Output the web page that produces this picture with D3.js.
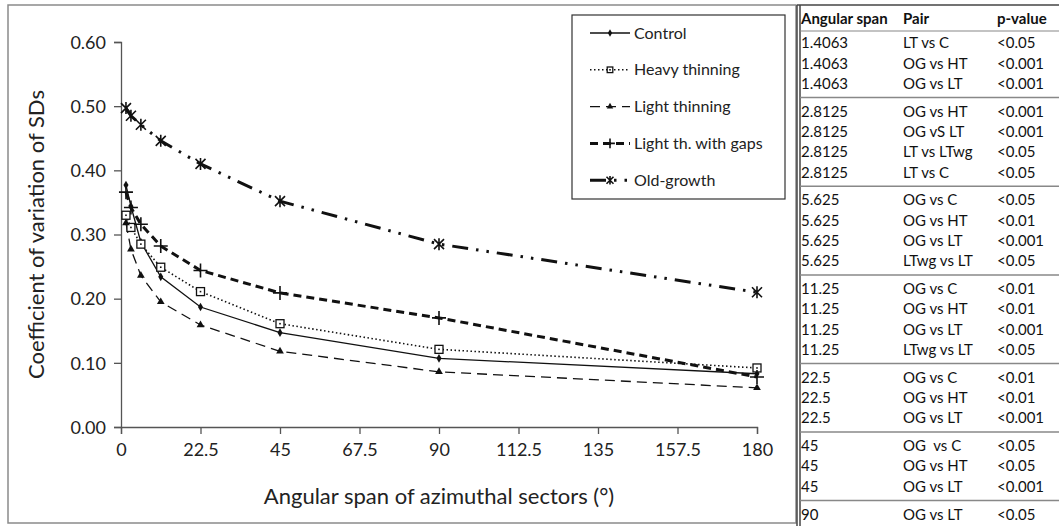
<!DOCTYPE html>
<html>
<head>
<meta charset="utf-8">
<script src="https://cdn.jsdelivr.net/npm/d3@7"></script>
<style>
	body { margin: 0; background: #fff; }
	svg { display: block; font-family: Lato, "Open Sans", sans-serif; }
</style>
</head>
<body>
<svg id="chart" width="1059" height="526"></svg>
<script>
// angular spans (x) and series values
const spans = [1.40625, 2.8125, 5.625, 11.25, 22.5, 45, 90, 180];
const control = [0.377, 0.344, 0.288, 0.234, 0.187, 0.147, 0.107, 0.083];
const heavyThinning = [0.330, 0.311, 0.285, 0.249, 0.211, 0.161, 0.121, 0.092];
const lightThinning = [0.318, 0.277, 0.236, 0.195, 0.159, 0.118, 0.086, 0.061];
const lightGaps = [0.366, 0.342, 0.316, 0.282, 0.244, 0.209, 0.170, 0.078];
const oldGrowth = [0.497, 0.485, 0.471, 0.446, 0.410, 0.352, 0.285, 0.210];

const seriesNames = ["Control", "Heavy thinning", "Light thinning", "Light th. with gaps", "Old-growth"];
const xTicks = [0, 22.5, 45, 67.5, 90, 112.5, 135, 157.5, 180];
const yTicks = [0, 0.1, 0.2, 0.3, 0.4, 0.5, 0.6];

// significance table
const tableSpans = ["1.4063", "1.4063", "1.4063", "2.8125", "2.8125", "2.8125", "2.8125",
	"5.625", "5.625", "5.625", "5.625", "11.25", "11.25", "11.25", "11.25",
	"22.5", "22.5", "22.5", "45", "45", "45", "90"];
const tablePairs = ["LT vs C", "OG vs HT", "OG vs LT", "OG vs HT", "OG vS LT", "LT vs LTwg", "LT vs C",
	"OG vs C", "OG vs HT", "OG vs LT", "LTwg vs LT", "OG vs C", "OG vs HT", "OG vs LT", "LTwg vs LT",
	"OG vs C", "OG vs HT", "OG vs LT", "OG  vs C", "OG vs HT", "OG vs LT", "OG vs LT"];
const tablePvalues = ["<0.05", "<0.001", "<0.001", "<0.001", "<0.001", "<0.05", "<0.05",
	"<0.05", "<0.01", "<0.001", "<0.05", "<0.01", "<0.01", "<0.001", "<0.05",
	"<0.01", "<0.01", "<0.001", "<0.05", "<0.05", "<0.001", "<0.05"];

const svg = d3.select("#chart");

const x = d3.scaleLinear().domain([0, 180]).range([121, 757]);
const y = d3.scaleLinear().domain([0, 0.6]).range([427, 42]);

// outer frame of the chart
svg.append("rect")
	.attr("x", 8).attr("y", 5)
	.attr("width", 788).attr("height", 518)
	.attr("fill", "none")
	.attr("stroke", "#8a8a8a")
	.attr("stroke-width", 1.5);

// axes
const yAxis = svg.append("g")
	.attr("transform", `translate(${x(0)},0)`)
	.call(d3.axisLeft(y).tickValues(yTicks).tickFormat(d3.format(".2f")).tickSize(7).tickPadding(8));
const xAxis = svg.append("g")
	.attr("transform", `translate(0,${y(0)})`)
	.call(d3.axisBottom(x).tickValues(xTicks).tickFormat((d) => String(d)).tickSize(7).tickPadding(9));

[yAxis, xAxis].forEach((a) => {
	a.select(".domain").attr("stroke", "#555").attr("stroke-width", 1.3);
	a.selectAll(".tick line").attr("stroke", "#555").attr("stroke-width", 1.3);
	a.selectAll(".tick text").attr("fill", "#222").attr("font-size", "18px").attr("font-family", "Lato, sans-serif");
});
yAxis.selectAll(".tick text").attr("dy", "0.35em");

svg.append("text")
	.attr("transform", `translate(36,${(y(0) + y(0.6)) / 2}) rotate(-90)`)
	.attr("text-anchor", "middle")
	.attr("dy", "0.35em")
	.attr("font-size", "22px")
	.attr("fill", "#222")
	.text("Coefficient of variation of SDs");

svg.append("text")
	.attr("x", (x(0) + x(180)) / 2)
	.attr("y", 496)
	.attr("text-anchor", "middle")
	.attr("dy", "0.35em")
	.attr("font-size", "22px")
	.attr("fill", "#222")
	.text("Angular span of azimuthal sectors (°)");

// marker shapes
function drawMarker(g, kind, cx, cy, s) {
	if (kind === "diamond") {
		g.append("path").attr("d", d3.symbol(d3.symbolDiamond, 22 * s)())
			.attr("transform", `translate(${cx},${cy})`).attr("fill", "#111");
	} else if (kind === "square") {
		const h = 4 * s;
		g.append("rect").attr("x", cx - h).attr("y", cy - h).attr("width", 2 * h).attr("height", 2 * h)
			.attr("fill", "#fff").attr("stroke", "#111").attr("stroke-width", 1.3);
		g.append("rect").attr("x", cx - 0.8).attr("y", cy - 0.8).attr("width", 1.6).attr("height", 1.6).attr("fill", "#111");
	} else if (kind === "triangle") {
		g.append("path").attr("d", d3.symbol(d3.symbolTriangle, 26 * s)())
			.attr("transform", `translate(${cx},${cy})`).attr("fill", "#111");
	} else if (kind === "plus") {
		const h = 7 * s;
		g.append("path").attr("d", `M${cx - h},${cy}H${cx + h}M${cx},${cy - h}V${cy + h}`)
			.attr("stroke", "#111").attr("stroke-width", 1.6);
	} else if (kind === "star") {
		const h = 5 * s;
		g.append("path")
			.attr("d", `M${cx - h},${cy - h}L${cx + h},${cy + h}M${cx - h},${cy + h}L${cx + h},${cy - h}M${cx},${cy - h * 1.2}V${cy + h * 1.2}`)
			.attr("stroke", "#111").attr("stroke-width", 1.6);
	}
}

const series = [
	{ name: seriesNames[0], values: control, marker: "diamond", width: 1.3, dash: null },
	{ name: seriesNames[1], values: heavyThinning, marker: "square", width: 1.6, dash: "1.5 2.5" },
	{ name: seriesNames[2], values: lightThinning, marker: "triangle", width: 1.3, dash: "10 6" },
	{ name: seriesNames[3], values: lightGaps, marker: "plus", width: 3, dash: "8 5" },
	{ name: seriesNames[4], values: oldGrowth, marker: "star", width: 3, dash: "16 8 2.5 8 2.5 8" },
];

const line = d3.line()
	.x((d) => x(d[0]))
	.y((d) => y(d[1]));

const plot = svg.append("g");
series.forEach((s) => {
	const pts = spans.map((v, i) => [v, s.values[i]]);
	plot.append("path")
		.attr("d", line(pts))
		.attr("fill", "none")
		.attr("stroke", "#111")
		.attr("stroke-width", s.width)
		.attr("stroke-dasharray", s.dash);
});
series.forEach((s) => {
	spans.forEach((v, i) => drawMarker(plot, s.marker, x(v), y(s.values[i]), 1));
});

// legend
const legend = svg.append("g");
legend.append("rect")
	.attr("x", 572).attr("y", 15)
	.attr("width", 213).attr("height", 184)
	.attr("fill", "#fff")
	.attr("stroke", "#333")
	.attr("stroke-width", 1.2);

series.forEach((s, i) => {
	const ly = 33 + i * 36.8;
	legend.append("line")
		.attr("x1", 590).attr("x2", 630)
		.attr("y1", ly).attr("y2", ly)
		.attr("stroke", "#111")
		.attr("stroke-width", s.width)
		.attr("stroke-dasharray", s.dash);
	drawMarker(legend, s.marker, 610, ly, 0.7);
	legend.append("text")
		.attr("x", 634).attr("y", ly)
		.attr("dy", "0.35em")
		.attr("font-size", "16px")
		.attr("fill", "#222")
		.text(s.name);
});

// table
const table = svg.append("g").attr("font-size", "15px").attr("fill", "#111");
const colX = [801, 903, 997];
const groups = [...new Set(tableSpans)];
const rowY = (i) => 43 + i * 20.3 + groups.indexOf(tableSpans[i]) * 7.5;

table.append("line").attr("x1", 797).attr("x2", 797).attr("y1", 5).attr("y2", 526).attr("stroke", "#444").attr("stroke-width", 1.5);
table.append("line").attr("x1", 800).attr("x2", 800).attr("y1", 5).attr("y2", 526).attr("stroke", "#444").attr("stroke-width", 1.5);
table.append("line").attr("x1", 797).attr("x2", 1059).attr("y1", 5).attr("y2", 5).attr("stroke", "#444").attr("stroke-width", 1.5);
table.append("line").attr("x1", 800).attr("x2", 1059).attr("y1", 31).attr("y2", 31).attr("stroke", "#888").attr("stroke-width", 1.2);

["Angular span", "Pair", "p-value"].forEach((h, j) => {
	table.append("text").attr("x", colX[j]).attr("y", 19).attr("dy", "0.35em")
		.attr("font-weight", "bold").text(h);
});

tableSpans.forEach((v, i) => {
	const ry = rowY(i);
	if (i > 0 && tableSpans[i - 1] !== v) {
		const sy = (rowY(i - 1) + ry) / 2;
		table.append("line").attr("x1", 800).attr("x2", 1059).attr("y1", sy).attr("y2", sy)
			.attr("stroke", "#888").attr("stroke-width", 1.5);
	}
	[v, tablePairs[i], tablePvalues[i]].forEach((t, j) => {
		table.append("text").attr("x", colX[j]).attr("y", ry).attr("dy", "0.35em")
			.attr("xml:space", "preserve").style("white-space", "pre").text(t);
	});
});
</script>
</body>
</html>
